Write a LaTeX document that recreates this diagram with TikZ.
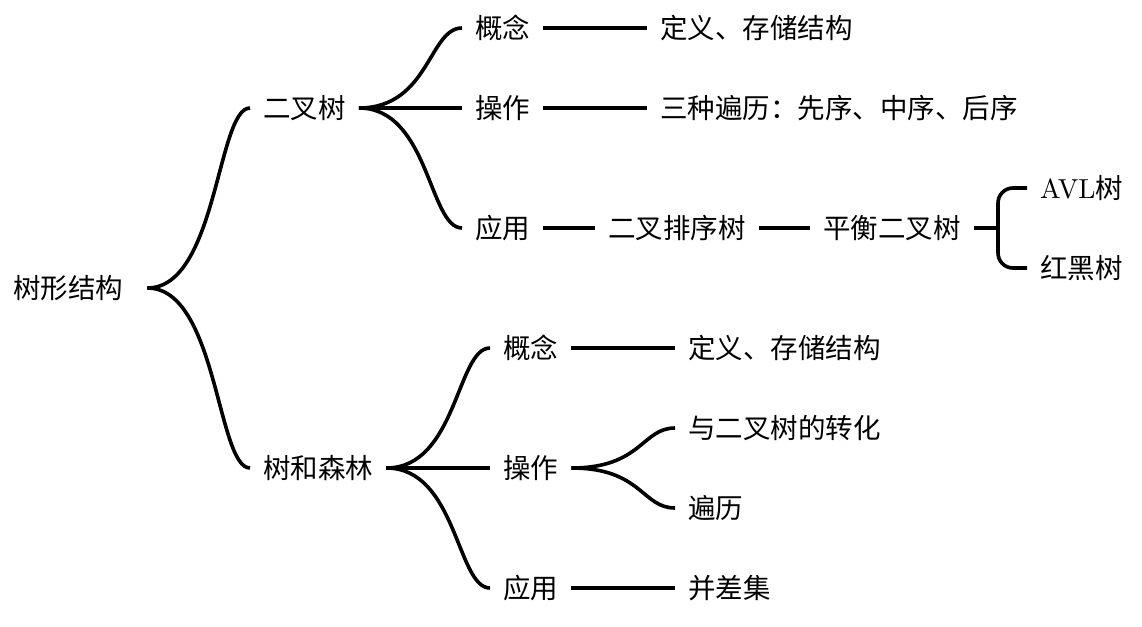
\documentclass[tikz,border=0pt]{standalone}
\usepackage{fontspec}
\newfontfamily\cjk{Noto Sans CJK SC}
\newfontfamily\lmten{lmroman10-regular}[Extension=.otf]
\usetikzlibrary{calc}
\tikzset{
  lbl/.style={anchor=west, inner xsep=13pt, inner ysep=0pt,
    text height=21pt, text depth=0pt,
    font=\cjk\fontsize{27.5}{33}\selectfont},
  link/.style={line width=3.6pt},
  branch/.style={to path={let \p1=(\tikztostart), \p2=(\tikztotarget) in
    .. controls ({\x1+0.68*(\x2-\x1)},\y1) and ({\x1+0.68*(\x2-\x1)},\y2) .. (\tikztotarget) \tikztonodes}}
}
\begin{document}
\begin{tikzpicture}[x=1pt,y=-1pt]
\useasboundingbox (0,0) rectangle (1142,626);

% root and first level
\node[lbl] (root) at (0,288) {树形结构};
\node[lbl] (bt) at (250,108) {二叉树};
\node[lbl] (tf) at (250,468) {树和森林};

% binary tree branch
\node[lbl] (bt1) at (462,28) {概念};
\node[lbl] (bt2) at (462,108) {操作};
\node[lbl] (bt3) at (462,228) {应用};
\node[lbl] (bt1a) at (647,28) {定义、存储结构};
\node[lbl] (bt2a) at (647,108) {三种遍历：先序、中序、后序};
\node[lbl] (bst) at (595,228) {二叉排序树};
\node[lbl] (bal) at (810,228) {平衡二叉树};
\node[lbl] (avl) at (1027,188) {{\lmten\fontsize{27.5}{33}\selectfont AVL}树};
\node[lbl] (rb) at (1027,268) {红黑树};
\coordinate (fork) at (998,228);

% tree and forest branch
\node[lbl] (tf1) at (490,348) {概念};
\node[lbl] (tf2) at (490,468) {操作};
\node[lbl] (tf3) at (490,588) {应用};
\node[lbl] (tf1a) at (675,348) {定义、存储结构};
\node[lbl] (tf2a) at (675,428) {与二叉树的转化};
\node[lbl] (tf2b) at (675,508) {遍历};
\node[lbl] (tf3a) at (675,588) {并差集};

% connectors
\draw[link] ([xshift=11pt]root.east) to[branch] (bt.west);
\draw[link] ([xshift=11pt]root.east) to[branch] (tf.west);

\draw[link] (bt.east) to[branch] (bt1.west);
\draw[link] (bt.east) to[branch] (bt2.west);
\draw[link] (bt.east) to[branch] (bt3.west);
\draw[link] (bt1.east) -- (bt1a.west);
\draw[link] (bt2.east) -- (bt2a.west);
\draw[link] (bt3.east) -- (bst.west);
\draw[link] (bst.east) -- (bal.west);
\draw[link] (bal.east) -- (fork);
\draw[link, rounded corners=15pt] (avl.west) -| (fork) |- (rb.west);

\draw[link] (tf.east) to[branch] (tf1.west);
\draw[link] (tf.east) to[branch] (tf2.west);
\draw[link] (tf.east) to[branch] (tf3.west);
\draw[link] (tf1.east) -- (tf1a.west);
\draw[link] (tf2.east) to[branch] (tf2a.west);
\draw[link] (tf2.east) to[branch] (tf2b.west);
\draw[link] (tf3.east) -- (tf3a.west);
\end{tikzpicture}
\end{document}
